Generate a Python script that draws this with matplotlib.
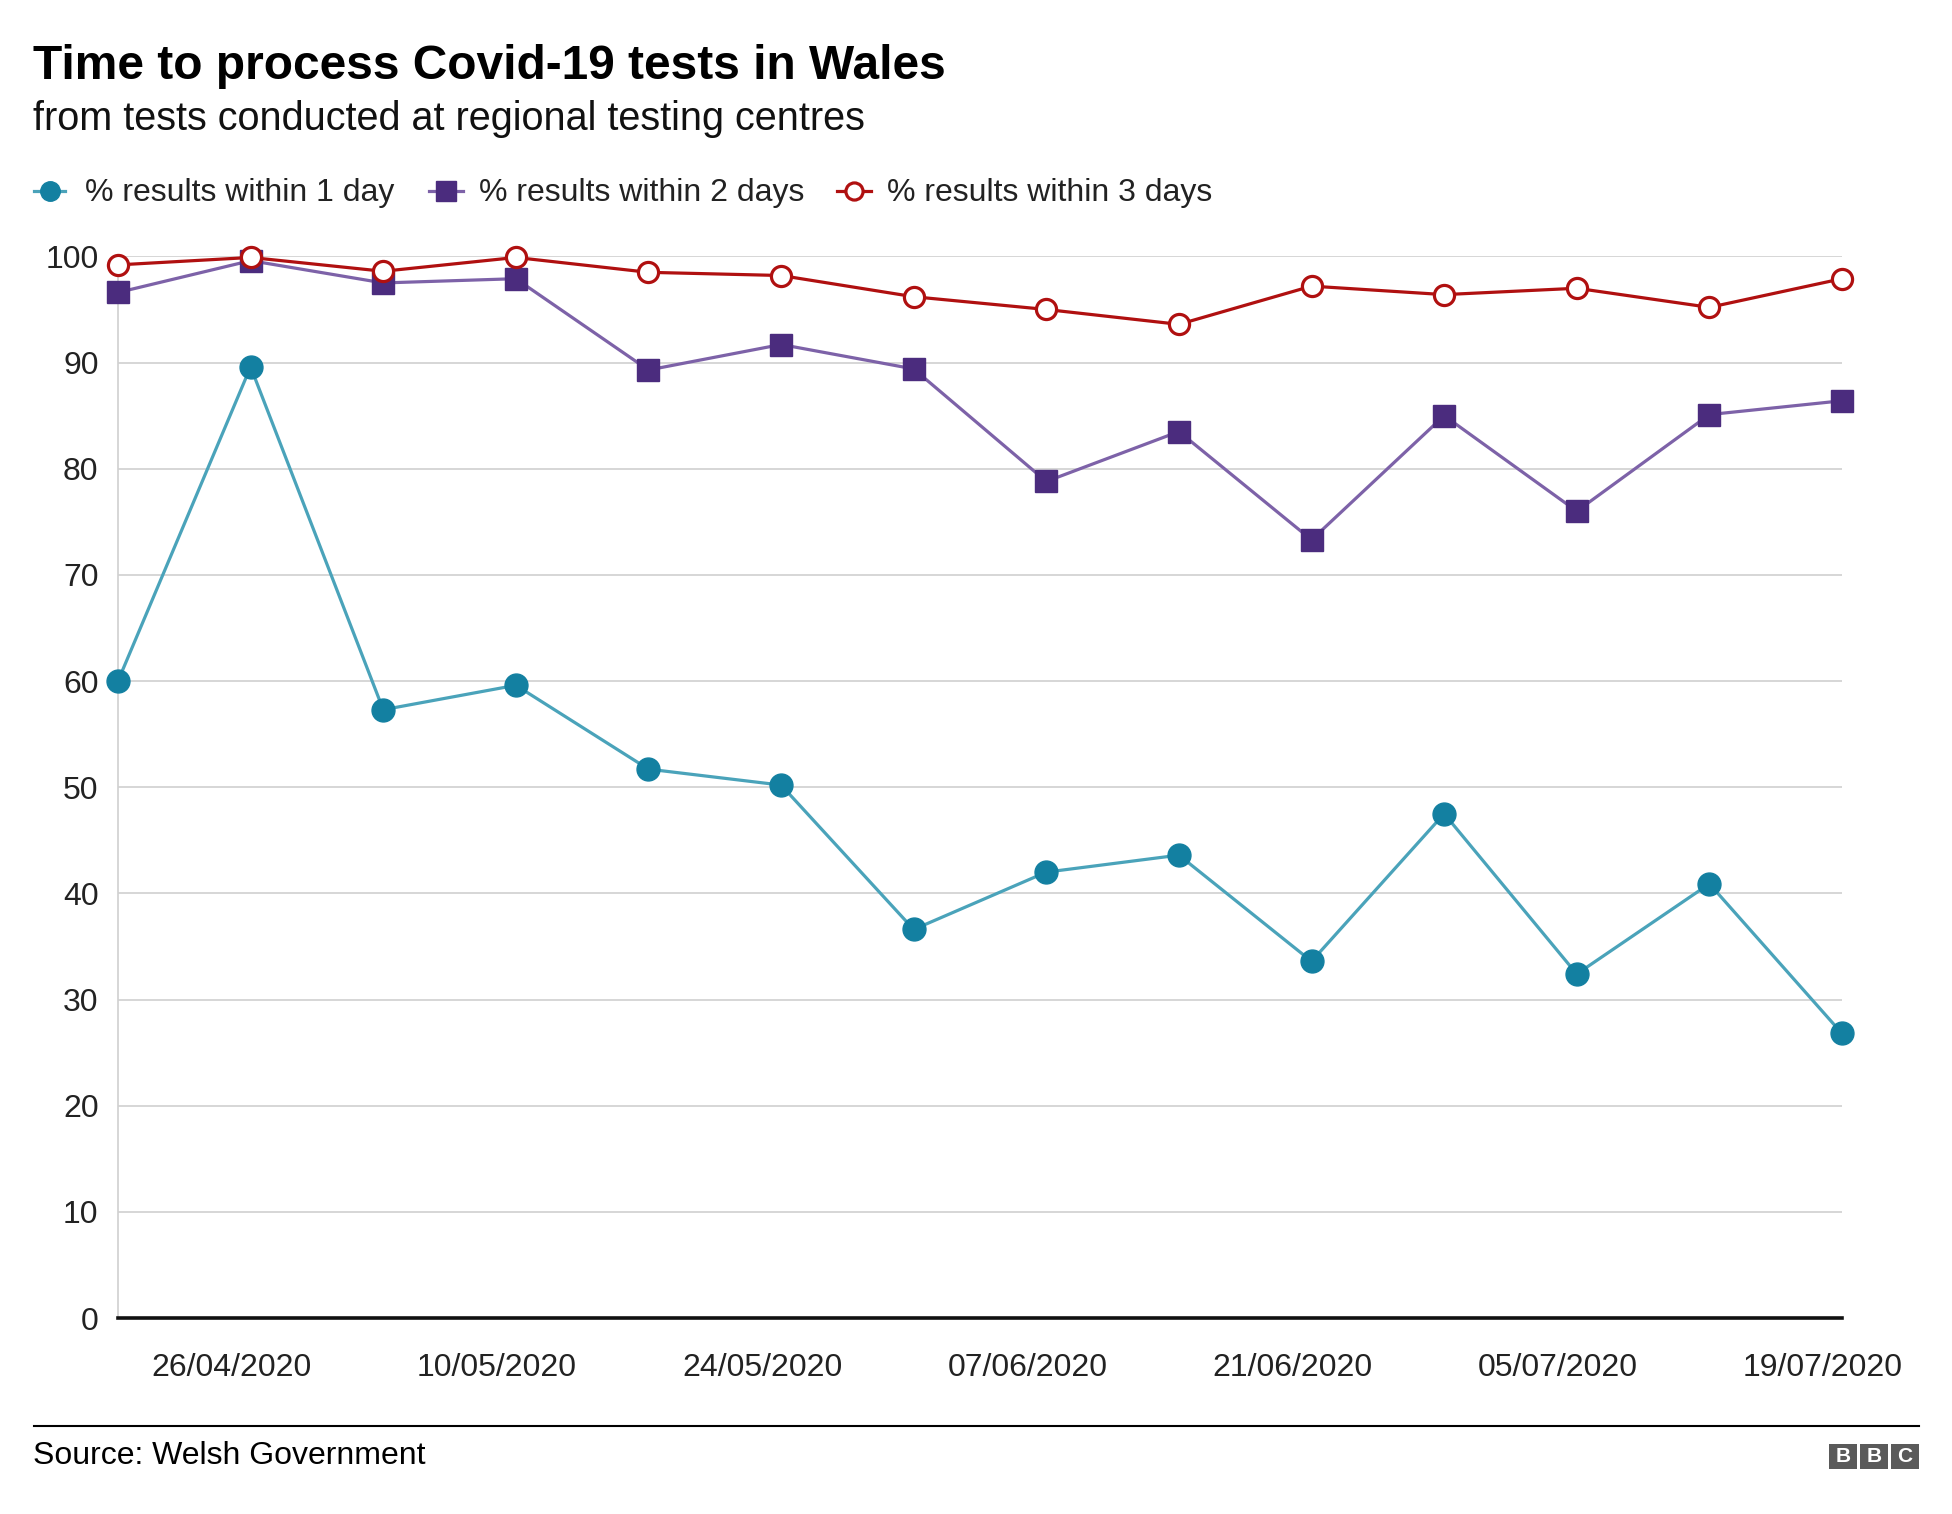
import matplotlib
matplotlib.use("Agg")
import matplotlib.pyplot as plt
import matplotlib.dates as mdates
from matplotlib.lines import Line2D
from matplotlib.patches import Rectangle
import matplotlib.transforms as mtransforms
import numpy as np
import pandas as pd

plt.rcParams['font.family'] = ['Liberation Sans', 'DejaVu Sans']

dates = pd.date_range("2020-04-19", periods=14, freq="7D")
within_1_day = [60.0, 89.6, 57.3, 59.6, 51.7, 50.2, 36.6, 42.0, 43.6, 33.6, 47.5, 32.4, 40.9, 26.8]
within_2_days = [96.6, 99.6, 97.5, 97.9, 89.3, 91.7, 89.4, 78.8, 83.5, 73.3, 85.0, 76.0, 85.1, 86.4]
within_3_days = [99.2, 99.9, 98.6, 99.9, 98.5, 98.2, 96.2, 95.0, 93.6, 97.2, 96.4, 97.0, 95.2, 97.9]
labels = ["% results within 1 day", "% results within 2 days", "% results within 3 days"]
tick_dates = pd.date_range("2020-04-26", periods=7, freq="14D")
y_ticks = [0, 10, 20, 30, 40, 50, 60, 70, 80, 90, 100]

W, H = 1952, 1514
fig = plt.figure(figsize=(W / 100, H / 100), dpi=100)

left, right, bottom, top = 118, 1842, 1318, 256.4
ax = fig.add_axes([left / W, 1 - bottom / H, (right - left) / W, (bottom - top) / H])

styles = [
    dict(color="#4aa3ba", marker="o", markersize=16.5, markerfacecolor="#1380a1",
         markeredgecolor="#1380a1", lw=2.3),
    dict(color="#7d62a8", marker="s", markersize=16.5, markerfacecolor="#4b2c7e",
         markeredgecolor="#4b2c7e", lw=2.3),
    dict(color="#b01010", marker="o", markersize=14.5, markerfacecolor="white",
         markeredgecolor="#b01010", markeredgewidth=2.3, lw=2.3),
]
series = [within_1_day, within_2_days, within_3_days]
for vals, st in zip(series, styles):
    ax.plot(dates, vals, clip_on=False, zorder=3, **st)

ax.set_xlim(dates[0], dates[-1])
ax.set_ylim(0, 100)
ax.set_yticks(y_ticks)
ax.set_yticklabels([str(v) for v in y_ticks])
ax.set_xticks(tick_dates)
ax.xaxis.set_major_formatter(mdates.DateFormatter("%d/%m/%Y"))
ax.tick_params(axis="both", length=0, labelsize=23, labelcolor="#222222")
ax.tick_params(axis="y", pad=14)
ax.tick_params(axis="x", pad=25)
offset = mtransforms.ScaledTranslation(-19 / 100, 0, fig.dpi_scale_trans)
for lab in ax.get_xticklabels():
    lab.set_transform(lab.get_transform() + offset)

ax.grid(axis="y", color="#d6d6d6", lw=1.4)
ax.set_axisbelow(True)
for s in ["top", "right"]:
    ax.spines[s].set_visible(False)
ax.spines["left"].set_color("#d0d0d0")
ax.spines["left"].set_linewidth(1.2)
ax.spines["bottom"].set_color("#111111")
ax.spines["bottom"].set_linewidth(2.6)
ax.spines["bottom"].set_zorder(4)

# Titles
fig.text(33 / W, 1 - 66.5 / H, "Time to process Covid-19 tests in Wales", fontsize=34.5,
         fontweight="bold", va="center", ha="left", color="#000000")
fig.text(33 / W, 1 - 118.5 / H, "from tests conducted at regional testing centres", fontsize=28.5,
         va="center", ha="left", color="#111111")

# Legend
leg_y = 1 - 191 / H
leg_x = [(34, 50, 65, 85), (429, 446, 463, 479), (837, 854, 871, 887)]
for (x0, xm, x1, xt), st, lab in zip(leg_x, styles, labels):
    st2 = dict(st)
    st2["markersize"] = st["markersize"] * 0.85
    fig.add_artist(Line2D([x0 / W, x1 / W], [leg_y, leg_y], transform=fig.transFigure,
                          **{k: v for k, v in st2.items() if k != "marker"}))
    fig.add_artist(Line2D([xm / W], [leg_y], transform=fig.transFigure, linestyle="none",
                          **{k: v for k, v in st2.items() if k not in ("lw", "color")}))
    fig.text(xt / W, leg_y - 1.5 / H, lab, fontsize=23, va="center", ha="left", color="#222222")

# Footer
fig.add_artist(Line2D([34 / W, 1919 / W], [1 - 1426 / H, 1 - 1426 / H],
                      transform=fig.transFigure, color="#000000", lw=1.5))
fig.text(33 / W, 1 - 1455.5 / H, "Source: Welsh Government", fontsize=23, va="center",
         ha="left", color="#000000")
for i, ch in enumerate("BBC"):
    bx = 1829 + i * 31
    fig.add_artist(Rectangle((bx / W, 1 - 1469 / H), 28 / W, 25 / H, transform=fig.transFigure,
                             facecolor="#5a5a5a", edgecolor="none"))
    fig.text((bx + 14) / W, 1 - 1456.5 / H, ch, fontsize=15, fontweight="bold", color="white",
             ha="center", va="center")

fig.savefig("out.png", dpi=100, facecolor="white")
